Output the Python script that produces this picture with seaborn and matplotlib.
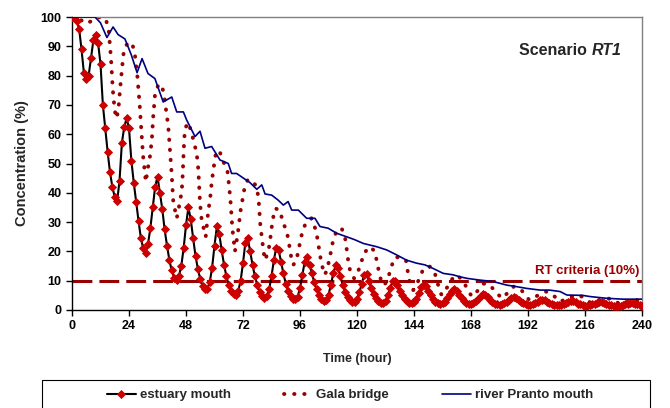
import matplotlib
matplotlib.use("Agg")
import matplotlib.pyplot as plt
from matplotlib.patches import Rectangle
import seaborn as sns

# estuary mouth, one value per hour (0..240 h)
estuary_conc = [
    100, 100, 98.5, 96, 89, 81, 78.7, 80, 86, 92, 94, 91, 84, 70, 62, 54, 47, 42, 38.5, 37.2,
    44, 57, 62.5, 65.4, 62, 51, 43.5, 37, 30.5, 24.5, 21, 19.5,
    22.5, 28, 35, 42, 45.5, 40, 34.5, 27.5, 22, 17, 13.5, 11, 10.3,
    11.5, 15, 21, 29, 35, 31, 24.5, 18.5, 14, 10.5, 8.3, 7, 7.3,
    9.5, 14.5, 22, 28.5, 26, 20.5, 15.5, 11.5, 8.5, 6.5, 5.4, 5.2,
    6.5, 10, 16, 23, 24.5, 20, 15.5, 11.5, 8.5, 6.2, 4.8, 4.2,
    4.8, 7, 11.5, 17, 21.3, 20.5, 16.5, 12.5, 9, 6.6, 4.9, 3.9, 3.7,
    4.5, 7.5, 12, 16.5, 18, 15.5, 12.5, 9.5, 7, 5, 3.8, 3.1,
    3.4, 5.2, 8.5, 12.5, 15.2, 14.5, 11.5, 8.5, 6.2, 4.5, 3.3, 2.7,
    2.8, 3.8, 6, 9, 12, 12.3, 10, 7.5, 5.5, 4, 3, 2.5,
    2.5, 3.2, 5, 7.5, 9.8, 10, 8.5, 6.5, 5, 3.8, 3, 2.5, 2.3,
    2.6, 3.8, 5.8, 7.8, 8.4, 8.2, 6.5, 5, 3.8, 2.9, 2.3, 2.1,
    2.3, 2.9, 4, 5.3, 6.6, 7.2, 6.5, 5.2, 4, 3, 2.4, 2.1, 2,
    2.3, 3, 3.9, 4.9, 5.5, 5.1, 4.3, 3.4, 2.7, 2.2, 1.9, 1.8,
    2, 2.4, 2.9, 3.5, 4.2, 4.4, 4.1, 3.5, 2.9, 2.3, 2, 1.8,
    1.8, 2.1, 2.5, 2.9, 3.4, 3.5, 3.3, 2.9, 2.4, 2, 1.8, 1.6, 1.6,
    1.8, 2.1, 2.5, 2.8, 3, 3, 2.7, 2.2, 1.9, 1.6, 1.5, 1.5,
    1.6, 1.9, 2.2, 2.5, 2.7, 2.7, 2.5, 2.1, 1.8, 1.6, 1.5, 1.4, 1.4,
    1.5, 1.7, 2, 2.2, 2.4, 2.4, 2.2, 1.9, 1.7, 1.5,
]
estuary_time = list(range(len(estuary_conc)))

# Gala bridge, turning points and in-between readings
gala_time = [
    0, 3, 5.5, 8, 10.5, 13, 14.5, 15.5, 16.4, 17.2, 18, 18.8,
    19.6, 20.2, 20.9, 21.6, 22.3, 24, 25.5, 26.5, 27.5, 28.5, 29.3, 30, 31.1,
    31.8, 32.8, 33.6, 34.2, 35, 36.2, 37.8, 39, 39.9, 40.5, 41, 41.5, 42, 42.6, 43.4, 44.1,
    45, 46.2, 46.6, 47.2, 47.6, 49, 50.5, 52.5, 53.2, 53.9, 54.6, 56.3,
    57.4, 58.1, 58.8, 59.5, 60.6, 62, 63.5, 65.4, 66.2, 66.8, 67.5, 68.6,
    69.8, 71, 72.5, 74, 76, 77.8, 78.6, 79.3, 79.8, 80.5, 81.2,
    82.7, 83.7, 84.2, 84.9, 85.6, 87.5, 89, 90.4, 91.5, 92.3, 93.2,
    94.5, 95.5, 96.8, 98.3, 100.8, 102.8, 103.8, 104.8, 105.8, 106.5,
    107.6, 108.8, 110, 111.2, 113.5, 115, 115.8, 116.5, 117.4, 118.8,
    120.3, 121.7, 123, 125.5, 127.5, 128.5, 129.5, 130.5, 131.5,
    133, 134.3, 136, 138.5, 140.6, 141.6, 142.3, 143.7,
    145, 146.6, 148, 150.7, 152.8, 153.8, 154.6, 155.6,
    157.7, 160, 162, 164, 165.6, 167, 168.4,
    170.5, 173.3, 176, 178, 181,
    183, 186, 189, 191, 192.5,
    195, 199.5, 202, 204, 205.5,
    208, 212.5, 215, 217, 218.5,
    221, 225, 228, 229.5, 231,
    233.5, 237.8, 240,
]
gala_conc = [
    100, 99.5, 97.8, 98.5, 99.8, 100, 98.5, 95, 86, 75, 68, 65.4,
    69, 75, 81, 87, 89.8, 91.5, 90.5, 87, 80, 70, 60, 52, 43.7,
    47.8, 52.3, 58, 66, 74, 76.5, 77, 72, 66.4, 63, 57.5, 51.8, 46, 37.5, 34, 31.3,
    35, 40.4, 46, 57.5, 62, 64, 60, 53.5, 47.8, 36.5, 30.7, 25,
    34, 37.5, 43.3, 47.8, 53.6, 54.5, 51, 47.8, 42, 36.5, 28, 20,
    26, 34, 41, 44.5, 44, 42, 37.5, 29, 25.6, 21, 17,
    19.9, 25.6, 29, 32.4, 34.7, 34, 29.5, 27, 22, 18, 15.4,
    17, 21, 26, 29.5, 31.3, 27, 22, 17, 13.5, 12,
    14.5, 19, 24, 26.5, 28, 24.5, 20, 15.5, 12.5, 10.8,
    12.8, 16, 19.5, 21.6, 20, 16, 12, 9, 8.5,
    10.5, 14.5, 18, 18, 17, 12, 9.1, 6.8,
    8.5, 11.4, 14.2, 14.8, 12.5, 9.5, 7.4, 5.1,
    7.4, 10.5, 12, 10.5, 8.5, 6.3, 4.6,
    6.3, 9, 8.5, 6.5, 4,
    5.5, 8, 7, 5, 3.4,
    4.5, 6.3, 5.5, 4, 2.8,
    3.8, 5.1, 4.5, 3.2, 2.4,
    3.2, 4, 3.6, 2.6, 2,
    2.7, 3.4, 3.1,
]

# river Pranto mouth
pranto_time = [
    0, 9.7, 12, 14.7, 17.3, 19.4, 22.3, 25, 27.4, 29.5, 32, 34.9, 38.4, 42, 44.1,
    46.9, 48.3, 51.8, 53.9, 56, 58.8, 62.3, 65.8, 67.2, 69.3, 74.9, 77.8, 79.9,
    81.3, 84.1, 86.8, 89, 91, 92.5, 95.3, 98.8, 102.3, 104.4, 107.9, 111.4,
    115.6, 119, 122.7, 128.3, 132.5, 136.7, 140.9, 145, 148.6, 152, 156.3,
    160.5, 163, 166.3, 171.8, 177.4, 183, 187, 191.2, 197, 201, 205.5, 208.4,
    215, 218, 225, 232, 240,
]
pranto_conc = [
    100, 100, 98, 93, 96.6, 94, 92.5, 87, 81, 85.8, 80.7, 79, 71, 72.7, 67.6,
    67.6, 64.8, 59.2, 61, 55.2, 55.8, 51.2, 50, 46.6, 46.6, 43.5, 41.2, 42.7,
    39.6, 39.2, 37.5, 35.8, 37, 34.1, 34.1, 31.3, 31.3, 28.5, 27.9, 26.2,
    25, 24, 22.7, 21.6, 20.5, 18.8, 17, 16, 15.4, 14.2, 12.5,
    12, 11.4, 10.8, 10.2, 9.7, 8.5, 8, 7.4, 6.8, 6.8, 6.3, 5.1,
    5, 4.6, 4, 3.7, 3.7,
]

rt_criteria = 10
x_ticks = list(range(0, 241, 24))
y_ticks = list(range(0, 101, 10))

sns.set_theme(style="white")
plt.rcParams["font.family"] = ["Liberation Sans", "DejaVu Sans"]
plt.rcParams["font.weight"] = "bold"

dark_red = "#990000"

fig = plt.figure(figsize=(6.7, 4.08), dpi=100)
ax = fig.add_axes([72 / 670, 1 - 310 / 408, 570 / 670, 293 / 408])

ax.axhline(rt_criteria, color=dark_red, lw=2.2, dashes=(6.5, 2.3), zorder=1)

sns.lineplot(x=estuary_time, y=estuary_conc, ax=ax, color="black", lw=1.5,
             marker="D", markersize=4.3, markerfacecolor="#CC0000",
             markeredgecolor="#CC0000", markeredgewidth=0.6,
             label="estuary mouth", zorder=3)
sns.lineplot(x=gala_time, y=gala_conc, ax=ax, color=dark_red, lw=2.8,
             linestyle=(0, (0.1, 2.5)), dash_capstyle="round",
             label="Gala bridge", zorder=2)
sns.lineplot(x=pranto_time, y=pranto_conc, ax=ax, color="#000080", lw=1.2,
             label="river Pranto mouth", zorder=4)

ax.set_xlim(0, 240)
ax.set_ylim(0, 100)
ax.set_xticks(x_ticks)
ax.set_yticks(y_ticks)
ax.tick_params(bottom=True, left=True, direction="out", length=4, width=1,
               colors="black", labelsize=9)
for lab in ax.get_xticklabels() + ax.get_yticklabels():
    lab.set_fontweight("bold")
ax.set_xlabel("Time (hour)", fontsize=9, fontweight="bold", labelpad=15)
ax.set_ylabel("Concentration (%)", fontsize=10.5, fontweight="bold", labelpad=8)

for side in ["left", "bottom"]:
    ax.spines[side].set_color("black")
    ax.spines[side].set_linewidth(1)
for side in ["top", "right"]:
    ax.spines[side].set_color("#808080")
    ax.spines[side].set_linewidth(1)

ax.text(0.912, 0.887, "Scenario ", transform=ax.transAxes, ha="right",
        va="center", fontsize=11.5, fontweight="bold")
ax.text(0.912, 0.887, "RT1", transform=ax.transAxes, ha="left",
        va="center", fontsize=11.5, fontweight="bold", style="italic")
ax.text(216.8, 13.2, "RT criteria (10%)", ha="center", va="center",
        fontsize=9.5, fontweight="bold", color=dark_red)

handles, labels = ax.get_legend_handles_labels()
ax.get_legend().remove()
fig.legend(handles, labels, loc="center", bbox_to_anchor=(350 / 670, 1 - 395 / 408),
           ncol=3, frameon=False, fontsize=9.5, handlelength=2.2,
           handletextpad=0.3, columnspacing=4, numpoints=1)
fig.add_artist(Rectangle((42 / 670, -0.02), (650 - 42) / 670, 1 - 380 / 408 + 0.02,
                         transform=fig.transFigure, fill=False,
                         edgecolor="black", lw=0.8))

fig.savefig("out.png", dpi=100)
